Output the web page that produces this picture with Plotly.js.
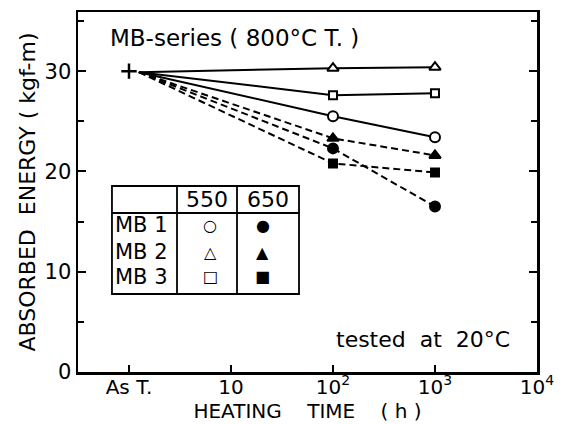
<!DOCTYPE html>
<html>
<head>
<meta charset="utf-8">
<script src="https://cdn.plot.ly/plotly-3.0.1.min.js"></script>
<style>html,body{margin:0;padding:0;background:#fff;}#chart{width:565px;height:424px;}</style>
</head>
<body>
<div id="chart"></div>
<script>
// Heating time (h); first entry is the common starting point just after As T.
const heatingTime = [1.25, 100, 1000];
const asTreatedTime = [1];
const asTreatedEnergy = [30];
// Absorbed energy (kgf-m)
const mb1_550 = [29.9, 25.5, 23.4];
const mb2_550 = [29.9, 30.3, 30.4];
const mb3_550 = [29.9, 27.6, 27.8];
const mb1_650 = [29.9, 22.3, 16.5];
const mb2_650 = [29.9, 23.3, 21.6];
const mb3_650 = [29.9, 20.8, 19.9];
const xTickVals = [1, 10, 100, 1000, 10000];
const xTickText = ['As T.', '10', '10<sup>2</sup>', '10<sup>3</sup>', '10<sup>4</sup>'];
const yTickVals = [0, 10, 20, 30];

const FONT = 'DejaVu Sans';
const markOpacity = [0, 1, 1];

function series(y, symbol, fill, dash, size) {
  return {
    x: heatingTime, y: y, type: 'scatter', mode: 'lines+markers',
    line: {color: '#000', width: 2, dash: dash},
    marker: {symbol: symbol, size: size, color: fill,
             opacity: markOpacity, line: {color: '#000', width: 2}},
    cliponaxis: false, showlegend: false, hoverinfo: 'skip'
  };
}
const dashStyle = '7px,4px';
const data = [
  series(mb1_550, 'circle', '#fff', 'solid', 10),
  series(mb2_550, 'triangle-up', '#fff', 'solid', 10),
  series(mb3_550, 'square', '#fff', 'solid', 8),
  series(mb1_650, 'circle', '#000', dashStyle, 10),
  series(mb2_650, 'triangle-up', '#000', dashStyle, 10),
  series(mb3_650, 'square', '#000', dashStyle, 8),
  {x: asTreatedTime, y: asTreatedEnergy, type: 'scatter', mode: 'markers',
   marker: {symbol: 'cross-thin-open', size: 11, color: '#000', line: {color: '#000', width: 2.5}},
   showlegend: false, hoverinfo: 'skip'}
];

// Legend table geometry (paper coords)
const tx0 = 0.074, tx1 = 0.4815, tvx1 = 0.2157, tvx2 = 0.3464;
const ty0 = 0.2167, ty1 = 0.5167, thy = 0.4417;
const lineStyle = {color: '#000', width: 1.8};
const shapes = [
  {type: 'rect', xref: 'paper', yref: 'paper', x0: tx0, x1: tx1, y0: ty0, y1: ty1, line: lineStyle},
  {type: 'line', xref: 'paper', yref: 'paper', x0: tvx1, x1: tvx1, y0: ty0, y1: ty1, line: lineStyle},
  {type: 'line', xref: 'paper', yref: 'paper', x0: tvx2, x1: tvx2, y0: ty0, y1: ty1, line: lineStyle},
  {type: 'line', xref: 'paper', yref: 'paper', x0: tx0, x1: tx1, y0: thy, y1: thy, line: lineStyle}
];
const rowY = [0.408, 0.333, 0.264];
const rowNames = ['MB 1', 'MB 2', 'MB 3'];
const openSyms = ['○', '△', '□'];
const fillSyms = ['●', '▲', '■'];
const ann = [];
function txt(text, x, y, size, xanchor) {
  ann.push({text: text, x: x, y: y, xref: 'paper', yref: 'paper', showarrow: false,
            xanchor: xanchor || 'center', yanchor: 'middle', font: {family: FONT, size: size, color: '#000'}});
}
txt('550', 0.281, 0.478, 22);
txt('650', 0.414, 0.478, 22);
rowNames.forEach((n, i) => {
  txt(n, 0.076, rowY[i], 21, 'left');
  txt(openSyms[i], 0.2876, rowY[i], 16);
  txt(fillSyms[i], 0.403, rowY[i], 16);
});
txt('MB-series ( 800°C T. )', 0.065, 0.928, 23, 'left');
txt('tested  at  20°C', 0.9455, 0.089, 22, 'right');

const layout = {
  width: 565, height: 424,
  margin: {l: 78, r: 28, t: 12, b: 52},
  paper_bgcolor: '#fff', plot_bgcolor: '#fff',
  font: {family: FONT, color: '#000', size: 21},
  xaxis: {
    type: 'log', range: [-0.5, 4.0001], tickmode: 'array', tickvals: xTickVals, ticktext: xTickText,
    ticks: 'inside', ticklen: 7, tickwidth: 2, tickcolor: '#000',
    showline: true, linewidth: 2.5, linecolor: '#000', mirror: true,
    showgrid: false, zeroline: false, ticklabelstandoff: -5,
    tickfont: {family: FONT, size: 20},
    title: {text: 'HEATING    TIME    ( h )\u00a0\u00a0\u00a0', font: {family: FONT, size: 20}, standoff: 4}
  },
  yaxis: {
    range: [0, 35.9], tickmode: 'array', tickvals: yTickVals,
    ticks: 'inside', ticklen: 8, tickwidth: 2, tickcolor: '#000',
    minor: {tickmode: 'linear', tick0: 0, dtick: 5, ticks: 'inside', ticklen: 6, tickwidth: 2, tickcolor: '#000'},
    showline: true, linewidth: 2.5, linecolor: '#000', mirror: 'ticks',
    showgrid: false, zeroline: false,
    tickfont: {family: FONT, size: 21},
    title: {text: 'ABSORBED  ENERGY ( kgf-m)', font: {family: FONT, size: 22}, standoff: 3}
  },
  shapes: shapes,
  annotations: ann
};
Plotly.newPlot('chart', data, layout, {staticPlot: true});
</script>
</body>
</html>
